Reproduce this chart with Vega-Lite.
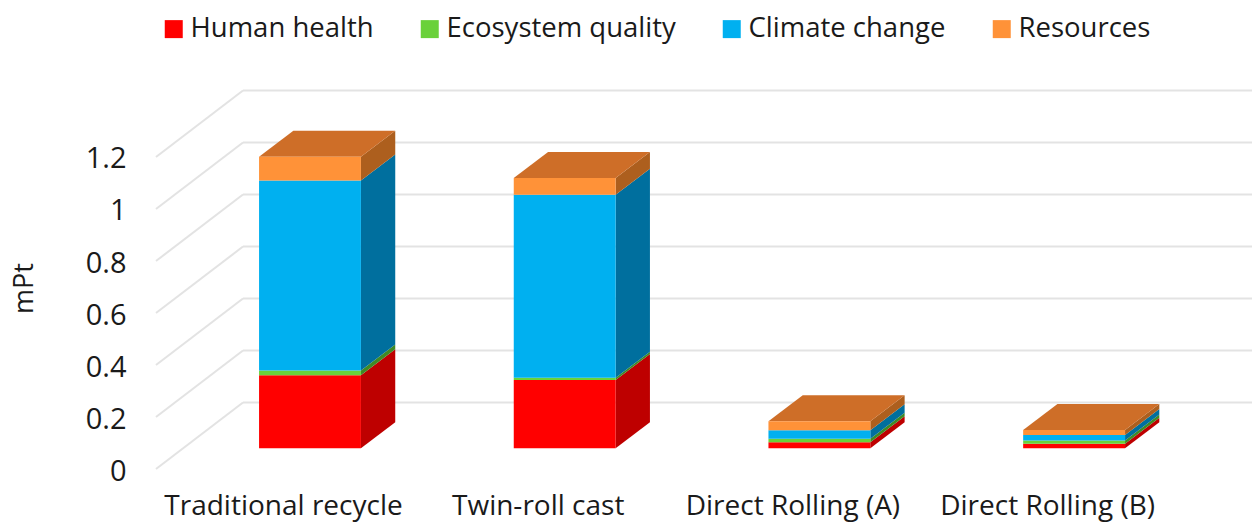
{
  "$schema": "https://vega.github.io/schema/vega-lite/v6.json",
  "width": 1252,
  "height": 522,
  "padding": 0,
  "autosize": {"type": "none"},
  "background": "white",
  "view": {"stroke": null},
  "config": {"font": "Open Sans"},
  "datasets": {
    "impacts": [
      {"process": "Traditional recycle", "impact": "Human health", "value": 0.281},
      {"process": "Traditional recycle", "impact": "Ecosystem quality", "value": 0.018},
      {"process": "Traditional recycle", "impact": "Climate change", "value": 0.731},
      {"process": "Traditional recycle", "impact": "Resources", "value": 0.091},
      {"process": "Twin-roll cast", "impact": "Human health", "value": 0.263},
      {"process": "Twin-roll cast", "impact": "Ecosystem quality", "value": 0.008},
      {"process": "Twin-roll cast", "impact": "Climate change", "value": 0.704},
      {"process": "Twin-roll cast", "impact": "Resources", "value": 0.065},
      {"process": "Direct Rolling (A)", "impact": "Human health", "value": 0.023},
      {"process": "Direct Rolling (A)", "impact": "Ecosystem quality", "value": 0.014},
      {"process": "Direct Rolling (A)", "impact": "Climate change", "value": 0.032},
      {"process": "Direct Rolling (A)", "impact": "Resources", "value": 0.035},
      {"process": "Direct Rolling (B)", "impact": "Human health", "value": 0.018},
      {"process": "Direct Rolling (B)", "impact": "Ecosystem quality", "value": 0.012},
      {"process": "Direct Rolling (B)", "impact": "Climate change", "value": 0.021},
      {"process": "Direct Rolling (B)", "impact": "Resources", "value": 0.019}
    ],
    "gridTicks": [
      {"tick": 0}, {"tick": 0.2}, {"tick": 0.4}, {"tick": 0.6},
      {"tick": 0.8}, {"tick": 1}, {"tick": 1.2}
    ]
  },
  "encoding": {
    "x": {
      "field": "x",
      "type": "quantitative",
      "scale": {"domain": [-1.1111, 3.8045], "nice": false, "zero": false},
      "axis": {
        "title": null,
        "values": [0, 1, 2, 3],
        "labelExpr": "['Traditional recycle','Twin-roll cast','Direct Rolling (A)','Direct Rolling (B)'][datum.value]",
        "domain": false,
        "ticks": false,
        "grid": false,
        "offset": -30,
        "labelPadding": 0,
        "labelFontSize": 28,
        "labelColor": "#1a1a1a",
        "labelFont": "Open Sans",
        "labelOverlap": false,
        "labelFlush": false,
        "labelLimit": 400
      }
    },
    "y": {
      "field": "y",
      "type": "quantitative",
      "stack": null,
      "scale": {"domain": [-0.2038, 1.8038], "nice": false, "zero": false},
      "axis": {
        "title": "mPt",
        "values": [0, 0.2, 0.4, 0.6, 0.8, 1, 1.2],
        "labelExpr": "'' + datum.value",
        "domain": false,
        "ticks": false,
        "grid": false,
        "offset": -126,
        "labelPadding": 0,
        "labelOffset": 2,
        "labelFontSize": 29,
        "labelColor": "#1a1a1a",
        "labelFont": "Open Sans",
        "labelOverlap": false,
        "labelFlush": false,
        "titleFont": "Open Sans",
        "titleFontSize": 27,
        "titleFontWeight": "normal",
        "titleColor": "#1a1a1a",
        "titleAngle": 270,
        "titleX": -102,
        "titleY": 288,
        "titleAlign": "center",
        "titleBaseline": "middle"
      }
    }
  },
  "layer": [
    {
      "data": {"name": "gridTicks"},
      "transform": [
        {"calculate": "-0.157", "as": "x"},
        {"calculate": "3.8045", "as": "x2"},
        {"calculate": "datum.tick + 0.2555", "as": "y"}
      ],
      "mark": {"type": "rule", "color": "#e3e3e3", "strokeWidth": 2},
      "encoding": {"x2": {"field": "x2"}}
    },
    {
      "data": {"name": "gridTicks"},
      "transform": [
        {"calculate": "-0.4986", "as": "x"},
        {"calculate": "-0.157", "as": "x2"},
        {"calculate": "datum.tick", "as": "y"},
        {"calculate": "datum.tick + 0.2555", "as": "y2"}
      ],
      "mark": {"type": "rule", "color": "#e3e3e3", "strokeWidth": 2},
      "encoding": {"x2": {"field": "x2"}, "y2": {"field": "y2"}}
    },
    {
      "data": {"name": "impacts"},
      "transform": [
        {"calculate": "indexof(['Human health','Ecosystem quality','Climate change','Resources'], datum.impact)", "as": "rank"},
        {"stack": "value", "groupby": ["process"], "sort": [{"field": "rank", "order": "ascending"}], "as": ["v0", "v1"]},
        {"calculate": "indexof(['Traditional recycle','Twin-roll cast','Direct Rolling (A)','Direct Rolling (B)'], datum.process)", "as": "slot"},
        {"calculate": "datum.slot + 0.106 - 0.2", "as": "xl"},
        {"calculate": "datum.slot + 0.106 + 0.2", "as": "xr"},
        {"calculate": "datum.v0 + 0.0796", "as": "yb"},
        {"calculate": "datum.v1 + 0.0796", "as": "yt"},
        {"calculate": "[datum.xr, datum.xr + 0.1347]", "as": "xs"},
        {"calculate": "[datum.yb, datum.yb + 0.1]", "as": "ys"},
        {"calculate": "[datum.yt, datum.yt + 0.1]", "as": "tops"},
        {"flatten": ["xs", "ys", "tops"], "as": ["x", "y", "y2"]}
      ],
      "mark": {"type": "area", "orient": "vertical"},
      "encoding": {
        "y2": {"field": "y2"},
        "detail": {"field": "process"},
        "color": {
          "field": "impact",
          "type": "nominal",
          "legend": null,
          "scale": {
            "domain": ["Human health", "Ecosystem quality", "Climate change", "Resources"],
            "range": ["#be0000", "#3f8a25", "#006f9e", "#ad5f1e"]
          }
        }
      }
    },
    {
      "data": {"name": "impacts"},
      "transform": [
        {"calculate": "indexof(['Human health','Ecosystem quality','Climate change','Resources'], datum.impact)", "as": "rank"},
        {"stack": "value", "groupby": ["process"], "sort": [{"field": "rank", "order": "ascending"}], "as": ["v0", "v1"]},
        {"filter": "datum.impact === 'Resources'"},
        {"calculate": "indexof(['Traditional recycle','Twin-roll cast','Direct Rolling (A)','Direct Rolling (B)'], datum.process)", "as": "slot"},
        {"calculate": "datum.slot + 0.106 - 0.2", "as": "xl"},
        {"calculate": "datum.slot + 0.106 + 0.2", "as": "xr"},
        {"calculate": "datum.v1 + 0.0796", "as": "yt"},
        {"calculate": "[datum.xl, datum.xl + 0.1347, datum.xr, datum.xr + 0.1347]", "as": "xs"},
        {"calculate": "[datum.yt, datum.yt, datum.yt, datum.yt + 0.1]", "as": "lows"},
        {"calculate": "[datum.yt, datum.yt + 0.1, datum.yt + 0.1, datum.yt + 0.1]", "as": "highs"},
        {"flatten": ["xs", "lows", "highs"], "as": ["x", "y", "y2"]}
      ],
      "mark": {"type": "area", "orient": "vertical", "color": "#ce6e28"},
      "encoding": {
        "y2": {"field": "y2"},
        "detail": {"field": "process"}
      }
    },
    {
      "data": {"name": "impacts"},
      "transform": [
        {"calculate": "indexof(['Human health','Ecosystem quality','Climate change','Resources'], datum.impact)", "as": "rank"},
        {"stack": "value", "groupby": ["process"], "sort": [{"field": "rank", "order": "ascending"}], "as": ["v0", "v1"]},
        {"calculate": "indexof(['Traditional recycle','Twin-roll cast','Direct Rolling (A)','Direct Rolling (B)'], datum.process)", "as": "slot"},
        {"calculate": "datum.slot + 0.106 - 0.2", "as": "x"},
        {"calculate": "datum.slot + 0.106 + 0.2", "as": "x2"},
        {"calculate": "datum.v0 + 0.0796", "as": "y"},
        {"calculate": "datum.v1 + 0.0796", "as": "y2"}
      ],
      "mark": {"type": "rect"},
      "encoding": {
        "x2": {"field": "x2"},
        "y2": {"field": "y2"},
        "color": {
          "field": "impact",
          "type": "nominal",
          "scale": {
            "domain": ["Human health", "Ecosystem quality", "Climate change", "Resources"],
            "range": ["#ff0000", "#6ad13a", "#00b0f0", "#ff9238"]
          },
          "legend": {
            "title": null,
            "orient": "none",
            "legendX": 160,
            "legendY": 15,
            "direction": "horizontal",
            "symbolType": "square",
            "symbolSize": 324,
            "symbolStrokeWidth": 0,
            "labelFont": "Open Sans",
            "labelFontSize": 27.5,
            "labelColor": "#1a1a1a",
            "labelOffset": 3,
            "columnPadding": 42,
            "labelLimit": 400
          }
        }
      }
    }
  ],
  "resolve": {"scale": {"color": "independent"}}
}
